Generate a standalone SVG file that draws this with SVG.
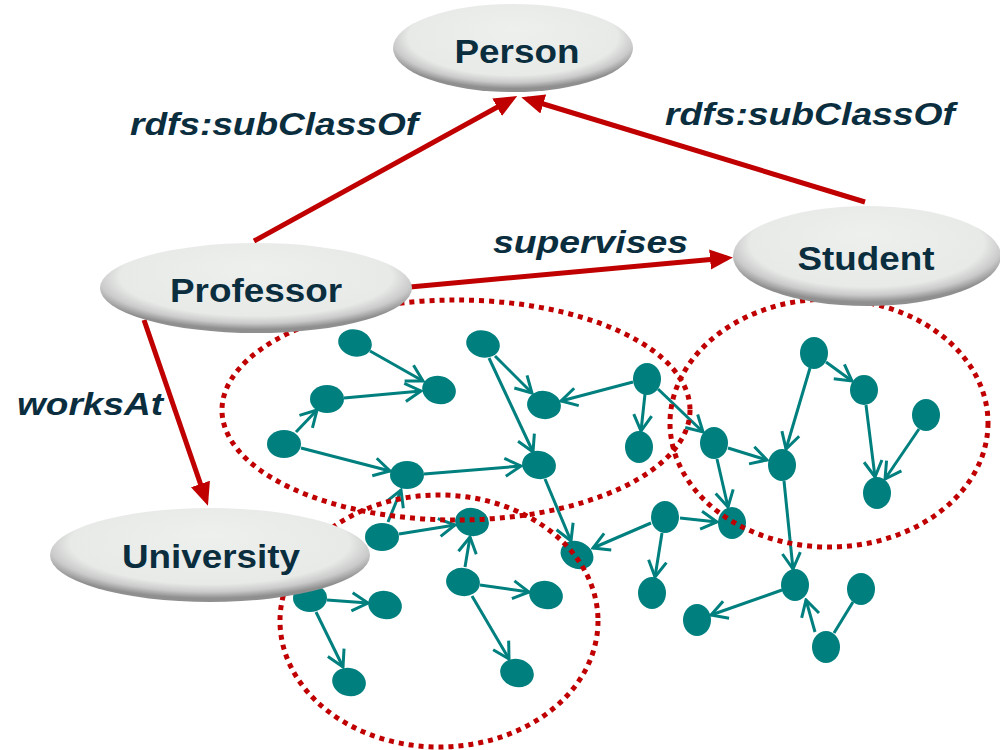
<svg xmlns="http://www.w3.org/2000/svg" width="1000" height="750" viewBox="0 0 1000 750">
  <defs>
    <radialGradient id="pearl" cx="50%" cy="40%" r="56%" fx="50%" fy="28%">
      <stop offset="0" stop-color="#eef0ee"/>
      <stop offset="0.78" stop-color="#e8eae8"/>
      <stop offset="0.9" stop-color="#c9cac9"/>
      <stop offset="1" stop-color="#8e8f8e"/>
    </radialGradient>
    <marker id="tealHead" viewBox="-2 -11 20 22" markerWidth="20" markerHeight="22" refX="16" refY="0" orient="auto" markerUnits="userSpaceOnUse">
      <path d="M0,-9 L16,0 L0,9" fill="none" stroke="#007f7f" stroke-width="3"/>
    </marker>
    <marker id="redHead" viewBox="0 -11 23 22" markerWidth="23" markerHeight="22" refX="17" refY="0" orient="auto" markerUnits="userSpaceOnUse">
      <path d="M0,-10 L23,0 L0,10 Z" fill="#c00000"/>
    </marker>
  </defs>
  <style>
    .edge { stroke: #007f7f; stroke-width: 3; fill: none; marker-end: url(#tealHead); }
    .plain { stroke: #007f7f; stroke-width: 3; fill: none; }
    .dot { fill: #007f7f; }
    .cluster { fill: none; stroke: #c00000; stroke-width: 5; stroke-dasharray: 5 5; }
    .cls { fill: url(#pearl); }
    .cname { font-family: "Liberation Sans", Arial, sans-serif; font-weight: bold; font-size: 34px; fill: #0b2e3f; text-anchor: middle; }
    .rel { stroke: #c00000; stroke-width: 5; fill: none; marker-end: url(#redHead); }
    .rlabel { font-family: "Liberation Sans", Arial, sans-serif; font-weight: bold; font-style: italic; font-size: 32px; fill: #0b2e3f; }
  </style>

  <!-- instance-level links -->
  <g id="instance-links">
    <line class="edge" x1="370" y1="351" x2="423" y2="381"/>
    <line class="edge" x1="344" y1="398" x2="421" y2="391"/>
    <line class="edge" x1="296" y1="432" x2="317" y2="410"/>
    <line class="edge" x1="301" y1="448" x2="390" y2="471"/>
    <line class="edge" x1="424" y1="474" x2="521" y2="466"/>
    <line class="edge" x1="495" y1="356" x2="532" y2="393"/>
    <line class="edge" x1="489" y1="358" x2="533" y2="452"/>
    <line class="edge" x1="633" y1="382" x2="561" y2="401"/>
    <line class="edge" x1="645" y1="394" x2="641" y2="431"/>
    <line class="edge" x1="658" y1="389" x2="703" y2="432"/>
    <line class="edge" x1="545" y1="479" x2="571" y2="541"/>
    <line class="edge" x1="728" y1="448" x2="767" y2="460"/>
    <line class="edge" x1="717" y1="459" x2="728" y2="507"/>
    <line class="edge" x1="810" y1="368" x2="786" y2="449"/>
    <line class="edge" x1="826" y1="362" x2="852" y2="381"/>
    <line class="edge" x1="866" y1="405" x2="875" y2="477"/>
    <line class="edge" x1="919" y1="429" x2="885" y2="479"/>
    <line class="edge" x1="784" y1="481" x2="793" y2="569"/>
    <line class="edge" x1="680" y1="518" x2="717" y2="522"/>
    <line class="edge" x1="651" y1="523" x2="593" y2="548"/>
    <line class="edge" x1="662" y1="533" x2="655" y2="577"/>
    <line class="edge" x1="782" y1="590" x2="711" y2="615"/>
    <line class="edge" x1="815" y1="632" x2="806" y2="600"/>
    <line class="plain" x1="853" y1="602" x2="834" y2="633"/>
    <line class="edge" x1="388" y1="522" x2="401" y2="490"/>
    <line class="edge" x1="399" y1="534" x2="455" y2="525"/>
    <line class="edge" x1="465" y1="567" x2="470" y2="537"/>
    <line class="edge" x1="480" y1="585" x2="529" y2="592"/>
    <line class="edge" x1="472" y1="596" x2="509" y2="659"/>
    <line class="edge" x1="327" y1="600" x2="368" y2="603"/>
    <line class="edge" x1="316" y1="612" x2="343" y2="667"/>
  </g>

  <!-- instance resources -->
  <g id="instances">
    <ellipse class="dot" cx="355" cy="343" rx="17" ry="13.5" transform="rotate(15 355 343)"/>
    <ellipse class="dot" cx="439" cy="390" rx="17" ry="14" transform="rotate(15 439 390)"/>
    <ellipse class="dot" cx="327" cy="399" rx="17" ry="14"/>
    <ellipse class="dot" cx="284" cy="444" rx="17" ry="14"/>
    <ellipse class="dot" cx="407" cy="475" rx="17" ry="14"/>
    <ellipse class="dot" cx="483" cy="344" rx="17" ry="13.5" transform="rotate(15 483 344)"/>
    <ellipse class="dot" cx="544" cy="405" rx="17" ry="14" transform="rotate(10 544 405)"/>
    <ellipse class="dot" cx="539" cy="465" rx="17" ry="14" transform="rotate(10 539 465)"/>
    <ellipse class="dot" cx="647" cy="379" rx="14" ry="16"/>
    <ellipse class="dot" cx="639" cy="447" rx="14" ry="16"/>
    <ellipse class="dot" cx="714" cy="443" rx="14" ry="16"/>
    <ellipse class="dot" cx="814" cy="353" rx="14" ry="16"/>
    <ellipse class="dot" cx="864" cy="390" rx="14" ry="15"/>
    <ellipse class="dot" cx="782" cy="465" rx="14" ry="16"/>
    <ellipse class="dot" cx="926" cy="415" rx="14" ry="16"/>
    <ellipse class="dot" cx="877" cy="493" rx="14" ry="16"/>
    <ellipse class="dot" cx="732" cy="523" rx="14" ry="16"/>
    <ellipse class="dot" cx="665" cy="517" rx="14" ry="16"/>
    <ellipse class="dot" cx="795" cy="585" rx="14" ry="16"/>
    <ellipse class="dot" cx="577" cy="555" rx="17" ry="13.5" transform="rotate(25 577 555)"/>
    <ellipse class="dot" cx="652" cy="593" rx="14" ry="16"/>
    <ellipse class="dot" cx="697" cy="620" rx="14" ry="16"/>
    <ellipse class="dot" cx="826" cy="647" rx="14" ry="16"/>
    <ellipse class="dot" cx="861" cy="589" rx="14" ry="16"/>
    <ellipse class="dot" cx="382" cy="537" rx="17" ry="14"/>
    <ellipse class="dot" cx="472" cy="522" rx="17" ry="14" transform="rotate(10 472 522)"/>
    <ellipse class="dot" cx="463" cy="582" rx="17" ry="14" transform="rotate(10 463 582)"/>
    <ellipse class="dot" cx="546" cy="595" rx="17" ry="14" transform="rotate(15 546 595)"/>
    <ellipse class="dot" cx="310" cy="598" rx="17" ry="14"/>
    <ellipse class="dot" cx="385" cy="605" rx="17" ry="14" transform="rotate(15 385 605)"/>
    <ellipse class="dot" cx="349" cy="682" rx="17" ry="14" transform="rotate(15 349 682)"/>
    <ellipse class="dot" cx="517" cy="673" rx="17" ry="14" transform="rotate(15 517 673)"/>
  </g>

  <!-- dotted groupings of instances -->
  <g id="clusters">
    <ellipse class="cluster" cx="456" cy="410" rx="234" ry="110"/>
    <ellipse class="cluster" cx="829" cy="423" rx="159" ry="124"/>
    <ellipse class="cluster" cx="439" cy="621" rx="159" ry="126"/>
  </g>

  <!-- schema-level relations -->
  <g id="schema-links">
    <line class="rel" x1="254" y1="241" x2="512" y2="99"/>
    <line class="rel" x1="865" y1="202" x2="527" y2="99"/>
    <line class="rel" x1="410" y1="287" x2="727" y2="258"/>
    <line class="rel" x1="144" y1="320" x2="206" y2="500"/>
    <text class="rlabel" x="130" y="135" textLength="288" lengthAdjust="spacingAndGlyphs">rdfs:subClassOf</text>
    <text class="rlabel" x="665" y="125" textLength="290" lengthAdjust="spacingAndGlyphs">rdfs:subClassOf</text>
    <text class="rlabel" x="493" y="253" textLength="195" lengthAdjust="spacingAndGlyphs">supervises</text>
    <text class="rlabel" x="17" y="415" textLength="146" lengthAdjust="spacingAndGlyphs">worksAt</text>
  </g>

  <g id="person">
    <ellipse class="cls" cx="513" cy="48" rx="120" ry="44"/>
    <text class="cname" x="517" y="63" textLength="125" lengthAdjust="spacingAndGlyphs">Person</text>
  </g>
  <g id="professor">
    <ellipse class="cls" cx="256" cy="288" rx="156" ry="45"/>
    <text class="cname" x="256" y="302" textLength="172" lengthAdjust="spacingAndGlyphs">Professor</text>
  </g>
  <g id="student">
    <ellipse class="cls" cx="867" cy="256" rx="134" ry="50"/>
    <text class="cname" x="866" y="270" textLength="137" lengthAdjust="spacingAndGlyphs">Student</text>
  </g>
  <g id="university">
    <ellipse class="cls" cx="210" cy="555" rx="160" ry="47"/>
    <text class="cname" x="211" y="568" textLength="178" lengthAdjust="spacingAndGlyphs">University</text>
  </g>
</svg>
